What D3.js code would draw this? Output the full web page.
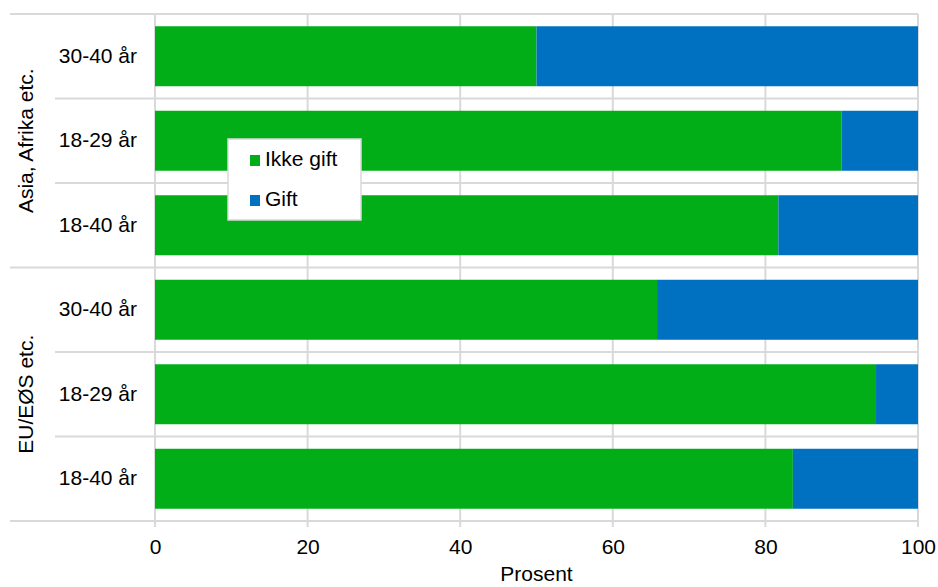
<!DOCTYPE html>
<html>
<head>
<meta charset="utf-8">
<script src="https://cdn.jsdelivr.net/npm/d3@7"></script>
<style>
  html, body { margin: 0; padding: 0; background: #fff; }
  svg { display: block; font-family: "Liberation Sans", Arial, sans-serif; }
</style>
</head>
<body>
<svg id="chart" width="938" height="587"></svg>
<script>
const groups = ["Asia, Afrika etc.", "EU/EØS etc."];
const ageGroups = ["30-40 år", "18-29 år", "18-40 år"];
const seriesNames = ["Ikke gift", "Gift"];
const ikkeGift = [50.0, 90.0, 81.7, 65.8, 94.5, 83.6];
const gift = [50.0, 10.0, 18.3, 34.2, 5.5, 16.4];
const xTicks = [0, 20, 40, 60, 80, 100];
const axisTitle = "Prosent";
const colors = ["#02AE18", "#0070C0"];

const rows = [];
groups.forEach((g, gi) => ageGroups.forEach((a, ai) => {
  const i = gi * ageGroups.length + ai;
  rows.push({ id: g + "|" + a, group: g, age: a, "Ikke gift": ikkeGift[i], "Gift": gift[i] });
}));

const svg = d3.select("#chart");
const pLeft = 155, pRight = 918, pTop = 14, pBottom = 521;
const fs = 21;
const ff = "Liberation Sans, Arial, sans-serif";

const x = d3.scaleLinear().domain([0, 100]).range([pLeft, pRight]);
const y = d3.scaleBand().domain(rows.map(d => d.id)).range([pTop, pBottom])
  .paddingInner(0.29).paddingOuter(0.145);

const grid = "#d9d9d9";
// vertical gridlines
svg.append("g").selectAll("line").data(xTicks).join("line")
  .attr("x1", d => x(d)).attr("x2", d => x(d))
  .attr("y1", pTop).attr("y2", pBottom + 6)
  .attr("stroke", grid).attr("stroke-width", 2);

// horizontal lines: boundaries
const step = y.step();
const boundaries = d3.range(rows.length + 1).map(i => pTop + i * step);
svg.append("g").selectAll("line").data(boundaries).join("line")
  .attr("x1", (d, i) => (i % ageGroups.length === 0) ? 10 : 55)
  .attr("x2", pRight)
  .attr("y1", d => d).attr("y2", d => d)
  .attr("stroke", grid).attr("stroke-width", 2);

// bars
const stack = d3.stack().keys(seriesNames)(rows);
svg.append("g").selectAll("g").data(stack).join("g")
  .attr("fill", (d, i) => colors[i])
  .selectAll("rect").data(d => d).join("rect")
  .attr("x", d => x(d[0]))
  .attr("width", d => x(d[1]) - x(d[0]))
  .attr("y", d => y(d.data.id))
  .attr("height", y.bandwidth());

// x axis labels
const xAxis = d3.axisBottom(x).tickValues(xTicks).tickSize(0).tickPadding(0).tickFormat(d3.format("d"));
const gx = svg.append("g").attr("transform", `translate(0,${pBottom})`).call(xAxis);
gx.select(".domain").remove();
gx.selectAll("text").attr("font-size", fs).attr("fill", "#000")
  .attr("dy", null).attr("y", 33).attr("font-family", ff);

svg.append("text").attr("x", (pLeft + pRight) / 2).attr("y", 581)
  .attr("text-anchor", "middle").attr("font-size", fs).attr("fill", "#000").text(axisTitle);

// y category labels
const yAxis = d3.axisLeft(y).tickSize(0).tickPadding(0).tickFormat(id => id.split("|")[1]);
const gy = svg.append("g").attr("transform", `translate(137,0)`).call(yAxis);
gy.select(".domain").remove();
gy.selectAll("text").attr("font-size", fs).attr("fill", "#000").attr("font-family", ff);

// group labels
groups.forEach((g, gi) => {
  const y0 = pTop + gi * ageGroups.length * step;
  const yc = y0 + ageGroups.length * step / 2;
  svg.append("text")
    .attr("transform", `translate(33,${yc}) rotate(-90)`)
    .attr("text-anchor", "middle").attr("font-size", fs).attr("fill", "#000").text(g);
});

// legend
const lg = svg.append("g").attr("transform", "translate(228,139)");
lg.append("rect").attr("x", 0).attr("y", 0).attr("width", 133).attr("height", 81)
  .attr("fill", "#fff").attr("stroke", grid).attr("stroke-width", 1.5);
seriesNames.forEach((s, i) => {
  const yy = 16 + i * 40;
  lg.append("rect").attr("x", 22).attr("y", yy).attr("width", 10).attr("height", 11).attr("fill", colors[i]);
  lg.append("text").attr("x", 37).attr("y", yy + 11).attr("font-size", fs).attr("fill", "#000").text(s);
});
</script>
</body>
</html>
